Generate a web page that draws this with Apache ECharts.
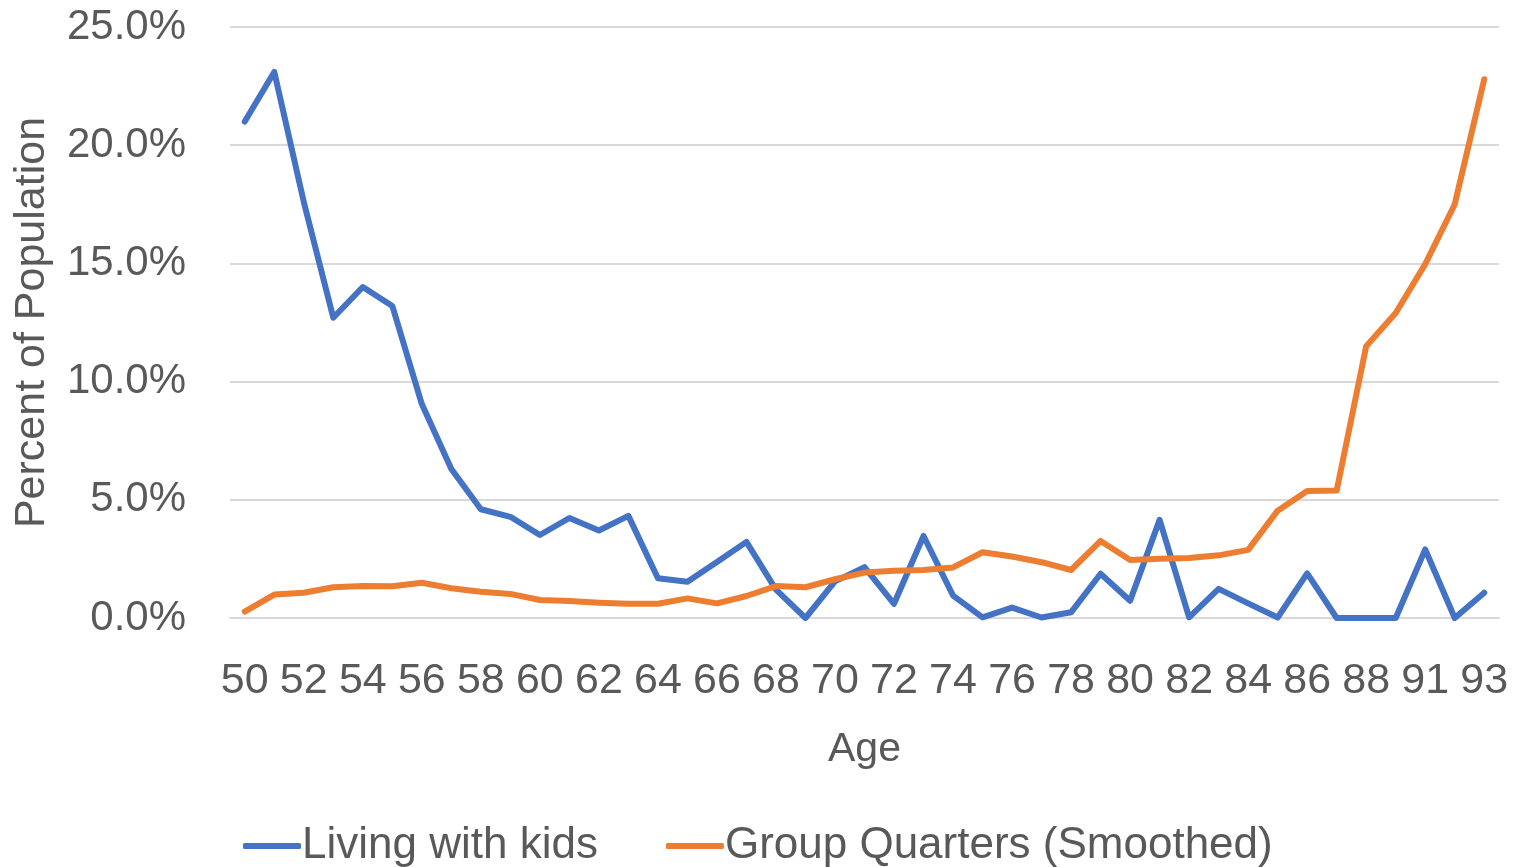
<!DOCTYPE html>
<html>
<head>
<meta charset="utf-8">
<title>Living with kids vs Group Quarters</title>
<script src="https://cdn.jsdelivr.net/npm/echarts@6/dist/echarts.min.js"></script>
<style>
  html, body { margin: 0; padding: 0; background: #fff; }
  #chart { width: 1517px; height: 867px; }
</style>
</head>
<body>
<div id="chart"></div>
<script>
// ages (90 is not in the source data)
const ages = [
  "50", "51", "52", "53", "54", "55", "56", "57", "58", "59",
  "60", "61", "62", "63", "64", "65", "66", "67", "68", "69",
  "70", "71", "72", "73", "74", "75", "76", "77", "78", "79",
  "80", "81", "82", "83", "84", "85", "86", "87", "88", "89",
  "91", "92", "93"
];

// percent of population
const livingWithKids = [
  21.0, 23.1, 17.6, 12.7, 14.0, 13.2, 9.05, 6.3, 4.6, 4.28,
  3.51, 4.23, 3.7, 4.32, 1.68, 1.53, 2.37, 3.22, 1.2, 0.0,
  1.55, 2.15, 0.6, 3.47, 0.95, 0.03, 0.44, 0.02, 0.24, 1.87,
  0.73, 4.15, 0.03, 1.23, 0.62, 0.02, 1.89, 0.0, 0.0, 0.0,
  2.9, 0.0, 1.07
];

const groupQuarters = [
  0.27, 0.99, 1.07, 1.3, 1.35, 1.34, 1.49, 1.26, 1.11, 1.02,
  0.76, 0.72, 0.65, 0.6, 0.6, 0.83, 0.62, 0.93, 1.35, 1.3,
  1.64, 1.92, 2.0, 2.03, 2.14, 2.78, 2.6, 2.36, 2.03, 3.26,
  2.45, 2.51, 2.54, 2.65, 2.88, 4.54, 5.37, 5.39, 11.5, 12.9,
  14.97, 17.5, 22.79
];

const yTicks = { min: 0, max: 25, step: 5 };

const FONT = "Liberation Sans";
const TEXT = "#595959";

var chart = echarts.init(document.getElementById("chart"));
chart.setOption({
  animation: false,
  textStyle: { fontFamily: FONT, color: TEXT },
  grid: {
    left: 230, right: 18, top: 27, bottom: 249,
    containLabel: false,
    outerBoundsMode: "none"
  },
  legend: {
    bottom: -6,
    left: 238,
    itemWidth: 58,
    itemHeight: 6,
    itemGap: 68,
    icon: "roundRect",
    textStyle: { fontSize: 44, color: TEXT, fontFamily: FONT, padding: [0, 0, 0, -4] },
    data: ["Living with kids", "Group Quarters (Smoothed)"]
  },
  xAxis: {
    type: "category",
    data: ages,
    boundaryGap: true,
    name: "Age",
    nameLocation: "middle",
    nameGap: 111,
    nameTextStyle: { fontSize: 41, color: TEXT },
    axisLine: { show: true, lineStyle: { color: "#d9d9d9", width: 2 } },
    axisTick: { show: false },
    axisLabel: { interval: 1, fontSize: 43, color: TEXT, margin: 42 }
  },
  yAxis: {
    type: "value",
    min: yTicks.min,
    max: yTicks.max,
    interval: yTicks.step,
    name: "Percent of Population",
    nameLocation: "middle",
    nameGap: 176,
    nameTextStyle: { fontSize: 43, color: TEXT },
    axisLine: { show: false },
    axisTick: { show: false },
    splitLine: { lineStyle: { color: "#d9d9d9", width: 2 } },
    axisLabel: {
      fontSize: 42,
      color: TEXT,
      margin: 44,
      formatter: function (v) { return v.toFixed(1) + "%"; }
    }
  },
  series: [
    {
      name: "Living with kids",
      type: "line",
      data: livingWithKids,
      showSymbol: false,
      symbol: "none",
      color: "#4472C4",
      lineStyle: { width: 6, color: "#4472C4", cap: "round", join: "round" }
    },
    {
      name: "Group Quarters (Smoothed)",
      type: "line",
      data: groupQuarters,
      showSymbol: false,
      symbol: "none",
      color: "#ED7D31",
      lineStyle: { width: 6, color: "#ED7D31", cap: "round", join: "round" }
    }
  ]
});
</script>
</body>
</html>
